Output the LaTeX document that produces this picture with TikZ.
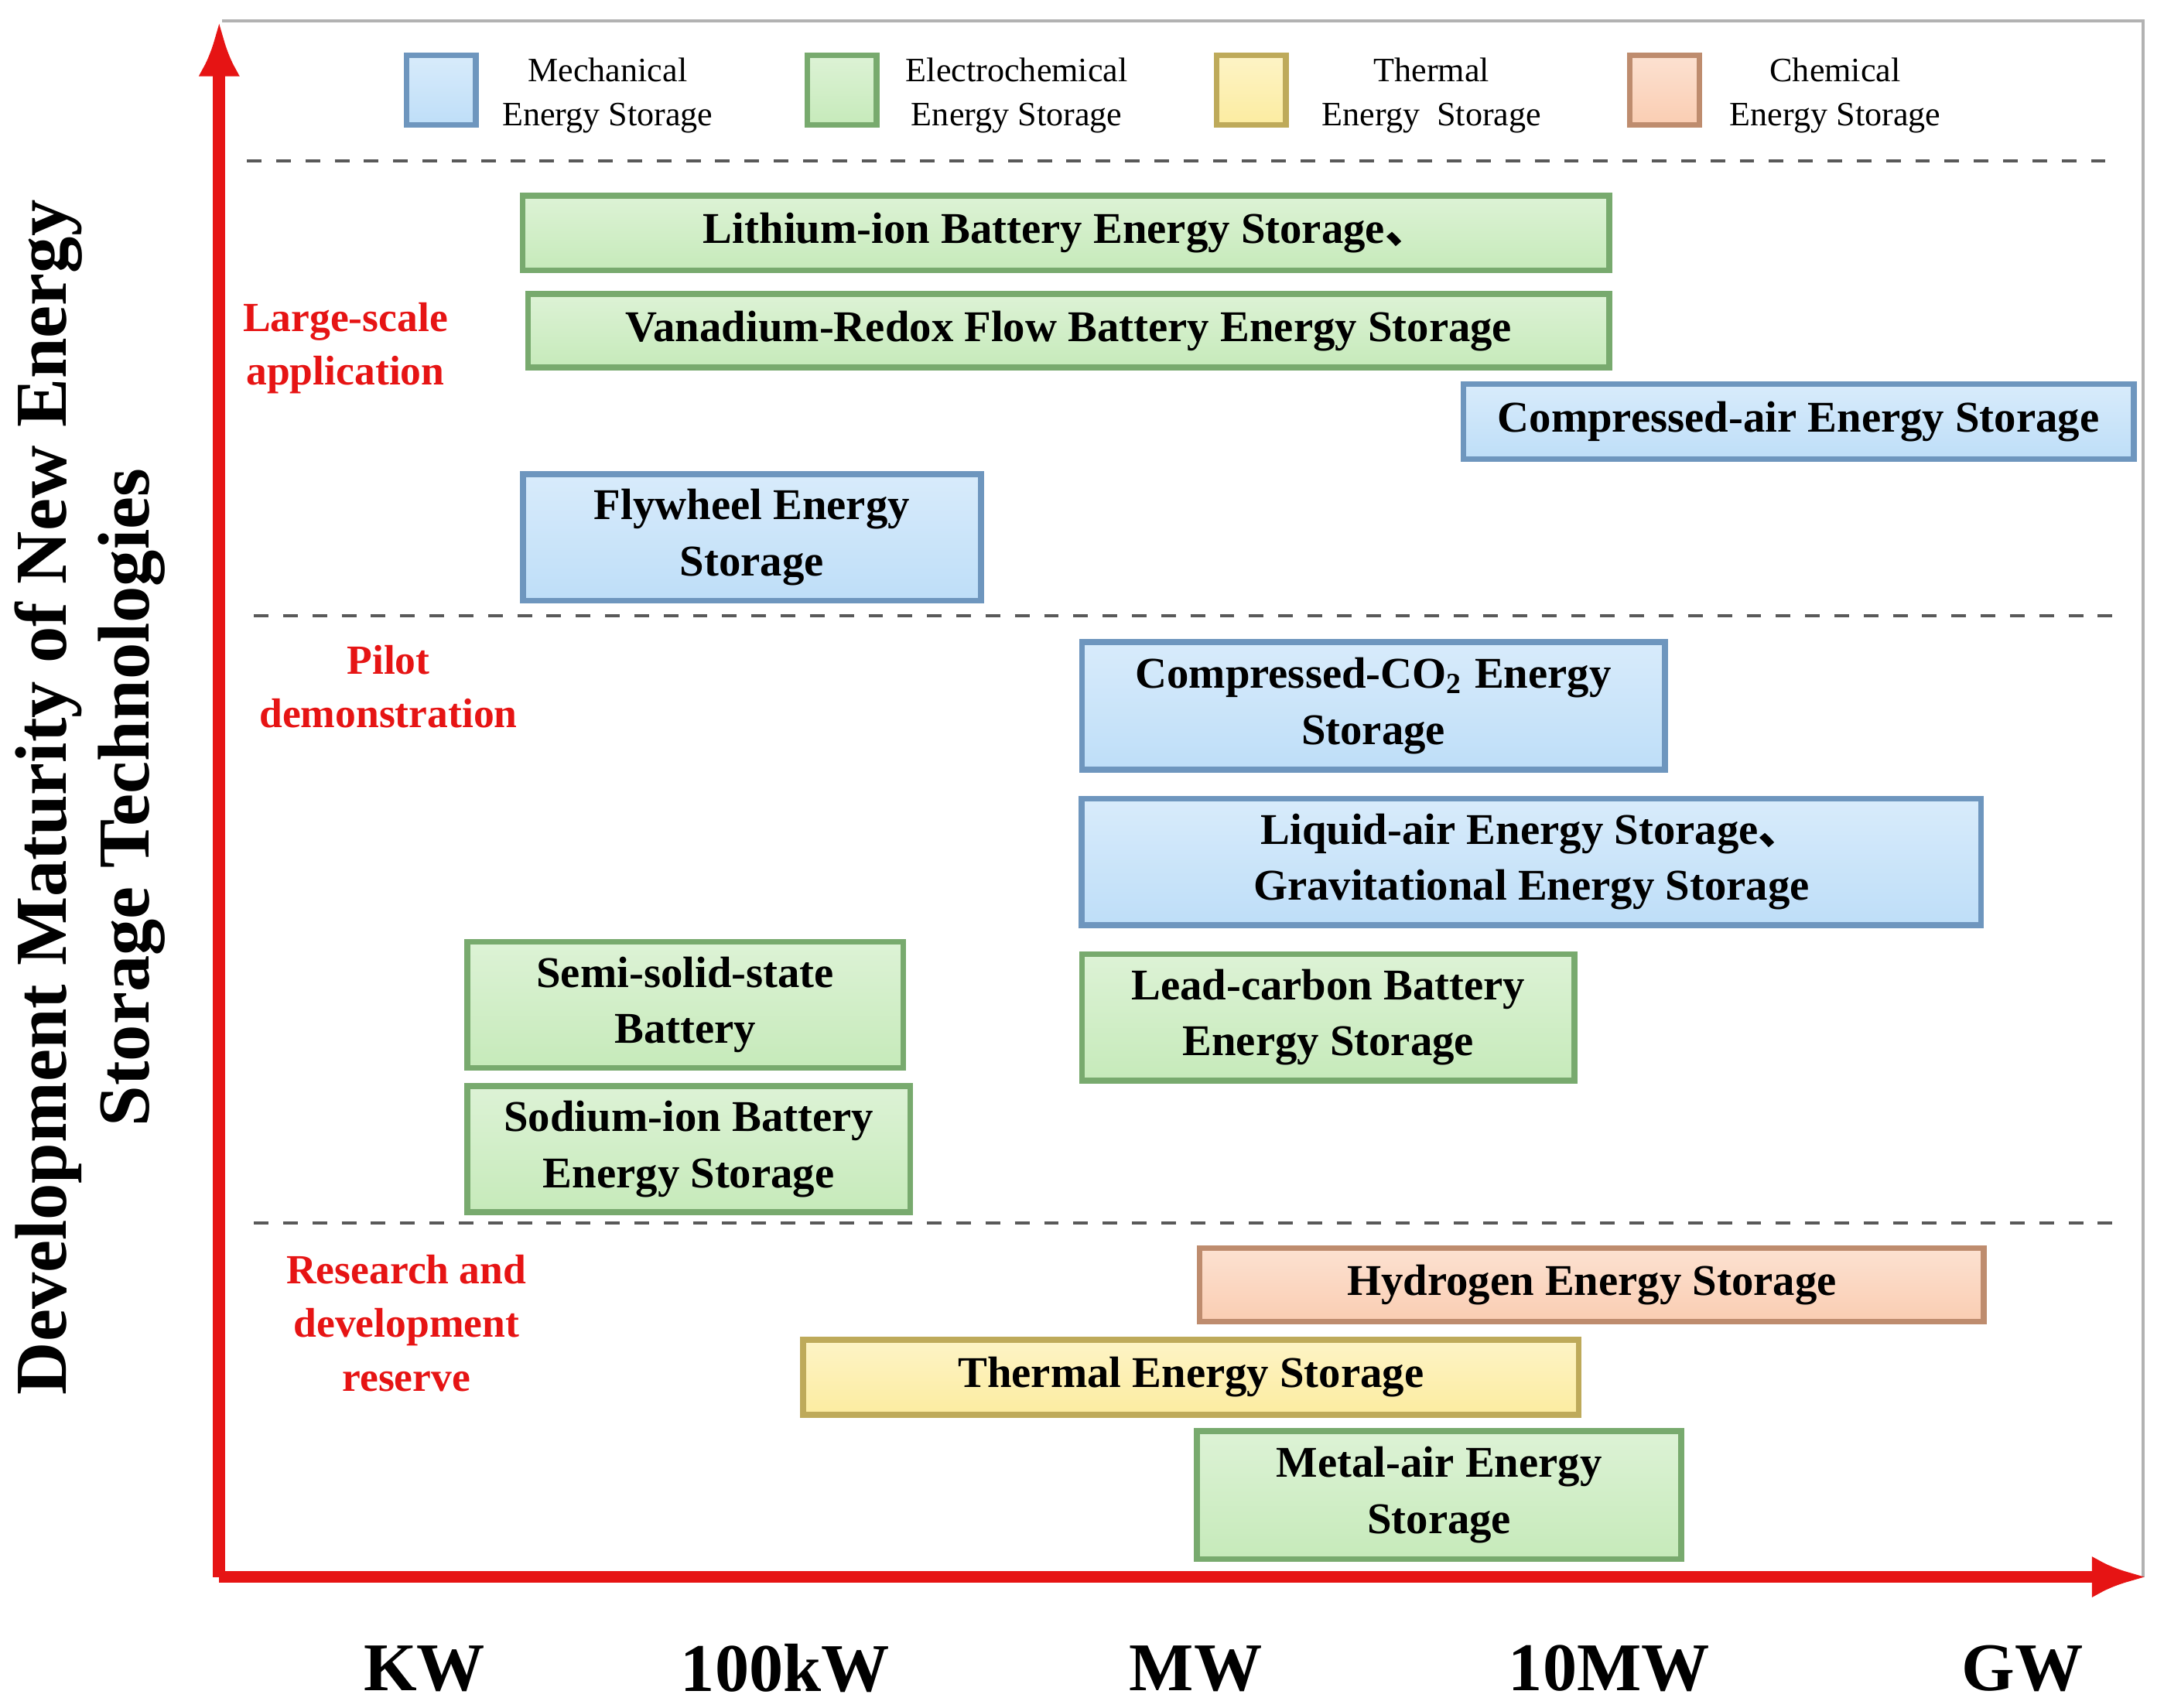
\documentclass[tikz,border=0pt]{standalone}
\usepackage{fontspec}
\setmainfont{Liberation Serif}
\newfontfamily\cjk{Noto Sans CJK SC}
\usetikzlibrary{arrows.meta}
\definecolor{gfill}{RGB}{198,234,186}\definecolor{gdark}{RGB}{120,170,110}
\definecolor{bfill}{RGB}{190,222,248}\definecolor{bdark}{RGB}{110,150,190}
\definecolor{yfill}{RGB}{252,236,160}\definecolor{ydark}{RGB}{190,170,90}
\definecolor{pfill}{RGB}{250,205,178}\definecolor{pdark}{RGB}{190,140,110}
\definecolor{axred}{RGB}{230,20,20}
\begin{document}
\begin{tikzpicture}[x=0.01cm,y=-0.01cm,
 box/.style={draw,line width=1.2pt,align=center,inner sep=0pt,font=\bfseries\fontsize{9}{11.5}\selectfont},
 gbox/.style={box,draw=gdark,top color=gfill!60,bottom color=gfill},
 bbox/.style={box,draw=bdark,top color=bfill!60,bottom color=bfill},
 ybox/.style={box,draw=ydark,top color=yfill!60,bottom color=yfill},
 pbox/.style={box,draw=pdark,top color=pfill!60,bottom color=pfill},
 leg/.style={line width=1.2pt,minimum width=0.5cm,minimum height=0.5cm,inner sep=0pt},
 legt/.style={align=center,font=\fontsize{7}{9}\selectfont},
 stage/.style={text=axred,align=center,font=\bfseries\fontsize{8.5}{11}\selectfont},
 xl/.style={font=\bfseries\fontsize{14}{16}\selectfont},
 sepline/.style={dashed,gray!70!black,line width=0.6pt}]
\useasboundingbox (0,0) rectangle (1560,1231);
\draw[gray!60,line width=0.6pt] (160,15) -- (1545,15) -- (1545,1137);
\coordinate (o) at (158,1137);
\coordinate (yt) at (158,15);
\coordinate (xr) at (1548,1137);
\draw[axred,line width=2.5pt,-{Latex[length=0.4cm,width=0.3cm]}] (o) -- (yt);
\draw[axred,line width=2.5pt,-{Latex[length=0.4cm,width=0.3cm]}] (o) -- (xr);
% legend
\node[leg,draw=bdark,top color=bfill!60,bottom color=bfill] (l1) at (318,65) {};
\node[legt] (l1t) at (438,69) {Mechanical\\Energy Storage};
\node[leg,draw=gdark,top color=gfill!60,bottom color=gfill] (l2) at (607,65) {};
\node[legt] (l2t) at (733,69) {Electrochemical\\Energy Storage};
\node[leg,draw=ydark,top color=yfill!60,bottom color=yfill] (l3) at (902,65) {};
\node[legt] (l3t) at (1032,69) {Thermal\\Energy\ \ Storage};
\node[leg,draw=pdark,top color=pfill!60,bottom color=pfill] (l4) at (1200,65) {};
\node[legt] (l4t) at (1323,69) {Chemical\\Energy Storage};
% dashed separators
\draw[sepline] (178,116) -- (1520,116);
\draw[sepline] (183,444) -- (1528,444);
\draw[sepline] (183,882) -- (1528,882);
% stage labels
\node[stage] (s1) at (249,251) {Large-scale\\application};
\node[stage] (s2) at (280,495) {Pilot\\demonstration};
\node[stage] (s3) at (293,954) {Research and\\development\\reserve};
% boxes
\node[gbox,minimum width=7.83cm,minimum height=0.54cm] (li) at (768.5,168) {Lithium-ion Battery Energy Storage{\cjk 、}};
\node[gbox,minimum width=7.79cm,minimum height=0.53cm] (va) at (770.5,238.5) {Vanadium-Redox Flow Battery Energy Storage};
\node[bbox,minimum width=4.83cm,minimum height=0.54cm] (ca) at (1296.5,304) {Compressed-air Energy Storage};
\node[bbox,minimum width=3.30cm,minimum height=0.91cm] (fw) at (542,387.5) {Flywheel Energy\\Storage};
\node[bbox,minimum width=4.20cm,minimum height=0.92cm] (co) at (990,509) {Compressed-CO\textsubscript{2} Energy\\Storage};
\node[bbox,minimum width=6.48cm,minimum height=0.91cm] (la) at (1104,621.5) {Liquid-air Energy Storage{\cjk 、}\\Gravitational Energy Storage};
\node[gbox,minimum width=3.14cm,minimum height=0.91cm] (ss) at (494,724.5) {Semi-solid-state\\Battery};
\node[gbox,minimum width=3.55cm,minimum height=0.91cm] (lc) at (957.5,733.5) {Lead-carbon Battery\\Energy Storage};
\node[gbox,minimum width=3.19cm,minimum height=0.91cm] (na) at (496.5,828.5) {Sodium-ion Battery\\Energy Storage};
\node[pbox,minimum width=5.65cm,minimum height=0.53cm] (h2) at (1147.5,926.5) {Hydrogen Energy Storage};
\node[ybox,minimum width=5.59cm,minimum height=0.54cm] (th) at (858.5,993) {Thermal Energy Storage};
\node[gbox,minimum width=3.49cm,minimum height=0.92cm] (ma) at (1037.5,1078) {Metal-air Energy\\Storage};
% axis labels
\node[rotate=90,align=center,font=\bfseries\fontsize{15}{17}\selectfont] (yl) at (65,575) {Development Maturity of New Energy\\Storage Technologies};
\node[xl] (x1) at (306,1203) {KW};
\node[xl] (x2) at (566,1203) {100kW};
\node[xl] (x3) at (862,1203) {MW};
\node[xl] (x4) at (1160,1203) {10MW};
\node[xl] (x5) at (1458,1203) {GW};
\end{tikzpicture}
\end{document}
